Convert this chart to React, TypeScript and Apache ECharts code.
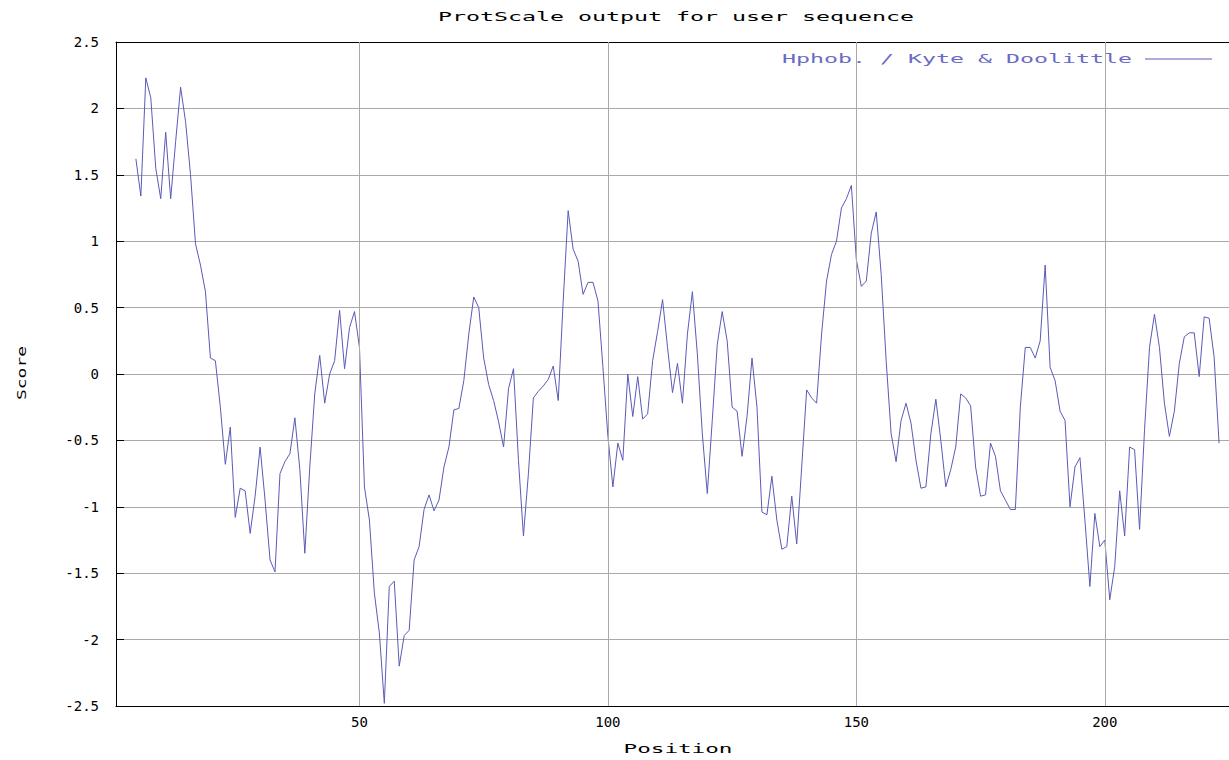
import React, { useEffect, useRef } from "react";
import * as echarts from "echarts";

const TITLE = "ProtScale output for user sequence";
const X_NAME = "Position";
const Y_NAME = "Score";
const SERIES_NAME = "Hphob. / Kyte & Doolittle";
const FIRST_POSITION = 5;
const X_TICKS = [50, 100, 150, 200];
const SCORES = [
  1.62, 1.34, 2.23, 2.08, 1.55, 1.32, 1.82, 1.32, 1.75, 2.16,
  1.9, 1.5, 0.98, 0.82, 0.62, 0.12, 0.1, -0.25, -0.68, -0.4,
  -1.08, -0.86, -0.88, -1.2, -0.92, -0.55, -0.95, -1.4, -1.49, -0.75,
  -0.66, -0.6, -0.33, -0.72, -1.35, -0.7, -0.15, 0.14, -0.22, 0.0,
  0.1, 0.48, 0.04, 0.35, 0.47, 0.2, -0.85, -1.1, -1.65, -1.95,
  -2.48, -1.6, -1.56, -2.2, -1.97, -1.93, -1.4, -1.3, -1.02, -0.91,
  -1.03, -0.95, -0.7, -0.55, -0.27, -0.26, -0.05, 0.3, 0.58, 0.5,
  0.12, -0.08, -0.2, -0.36, -0.55, -0.11, 0.04, -0.65, -1.22, -0.75,
  -0.18, -0.13, -0.09, -0.04, 0.06, -0.2, 0.55, 1.23, 0.94, 0.85,
  0.6, 0.69, 0.69, 0.55, 0.05, -0.47, -0.85, -0.52, -0.65, 0.0,
  -0.32, -0.02, -0.34, -0.3, 0.1, 0.32, 0.56, 0.2, -0.14, 0.08,
  -0.22, 0.3, 0.62, 0.15, -0.45, -0.9, -0.35, 0.22, 0.47, 0.25,
  -0.25, -0.28, -0.62, -0.32, 0.12, -0.25, -1.04, -1.06, -0.77, -1.1,
  -1.32, -1.3, -0.92, -1.28, -0.7, -0.12, -0.18, -0.22, 0.3, 0.7,
  0.9, 1.0, 1.25, 1.32, 1.42, 0.86, 0.66, 0.7, 1.06, 1.22,
  0.75, 0.1, -0.45, -0.66, -0.35, -0.22, -0.37, -0.65, -0.86, -0.85,
  -0.45, -0.19, -0.5, -0.85, -0.72, -0.55, -0.15, -0.18, -0.24, -0.7,
  -0.92, -0.91, -0.52, -0.62, -0.88, -0.95, -1.02, -1.02, -0.25, 0.2,
  0.2, 0.12, 0.25, 0.82, 0.05, -0.05, -0.28, -0.35, -1.0, -0.7,
  -0.63, -1.1, -1.6, -1.05, -1.3, -1.25, -1.7, -1.45, -0.88, -1.22,
  -0.55, -0.57, -1.17, -0.42, 0.2, 0.45, 0.2, -0.22, -0.47, -0.28,
  0.08, 0.28, 0.31, 0.31, -0.02, 0.43, 0.42, 0.13, -0.52,
];

const FONT = "DejaVu Sans Mono";
const LINE_COLOR = "#5a5ab8";
const GRID_COLOR = "#a9a9a9";

export default function App() {
  const ref = useRef<HTMLDivElement>(null);
  useEffect(() => {
    if (!ref.current) return;
    const chart = echarts.init(ref.current, null, { renderer: "svg" });
    const data = SCORES.map((v, i) => [FIRST_POSITION + i, v]);
    chart.setOption({
      animation: false,
      backgroundColor: "#ffffff",
      grid: { left: 116, right: 0, top: 42, bottom: 54 },
      xAxis: [
        {
          type: "value",
          min: 1,
          max: 225,
          position: "bottom",
          axisLine: { show: true, onZero: false, lineStyle: { color: "#000", width: 1 } },
          axisTick: { show: true, inside: true, length: 8, customValues: X_TICKS, lineStyle: { color: "#000" } },
          axisLabel: { show: true, customValues: X_TICKS, color: "#000", fontFamily: FONT, fontSize: 14, margin: 9 },
          splitLine: { show: false },
        },
        {
          type: "value",
          min: 1,
          max: 225,
          position: "top",
          axisLine: { show: true, onZero: false, lineStyle: { color: "#000", width: 1 } },
          axisTick: { show: true, inside: true, length: 8, customValues: X_TICKS, lineStyle: { color: "#000" } },
          axisLabel: { show: false },
          splitLine: { show: false },
        },
      ],
      yAxis: {
        type: "value",
        min: -2.5,
        max: 2.5,
        interval: 0.5,
        axisLine: { show: true, onZero: false, lineStyle: { color: "#000", width: 1 } },
        axisTick: { show: true, inside: true, length: 8, lineStyle: { color: "#000" } },
        axisLabel: { color: "#000", fontFamily: FONT, fontSize: 14, margin: 17 },
        splitLine: { show: true, lineStyle: { color: GRID_COLOR, width: 1 } },
      },
      series: [
        {
          type: "line",
          name: "grid",
          data: [],
          z: 1,
          silent: true,
          markLine: {
            silent: true,
            symbol: "none",
            label: { show: false },
            lineStyle: { color: GRID_COLOR, type: "solid", width: 1 },
            data: X_TICKS.map((t) => ({ xAxis: t })),
          },
        },
        {
          type: "line",
          name: SERIES_NAME,
          data,
          z: 3,
          showSymbol: false,
          symbol: "none",
          lineStyle: { color: LINE_COLOR, width: 1 },
          itemStyle: { color: LINE_COLOR },
        },
      ],
      graphic: [
        {
          type: "text",
          x: 676,
          y: 17,
          scaleX: 1.79,
          style: { text: TITLE, fontFamily: FONT, fontSize: 13, fill: "#000", textAlign: "center", textVerticalAlign: "middle" },
        },
        {
          type: "text",
          x: 678,
          y: 748,
          scaleX: 1.74,
          style: { text: X_NAME, fontFamily: FONT, fontSize: 13, fill: "#000", textAlign: "center", textVerticalAlign: "middle" },
        },
        {
          type: "text",
          x: 21,
          y: 373,
          rotation: Math.PI / 2,
          scaleX: 1.38,
          style: { text: Y_NAME, fontFamily: FONT, fontSize: 13, fill: "#000", textAlign: "center", textVerticalAlign: "middle" },
        },
        {
          type: "text",
          x: 782,
          y: 59,
          scaleX: 1.79,
          style: { text: SERIES_NAME, fontFamily: FONT, fontSize: 13, fill: "#6a6ac6", textAlign: "left", textVerticalAlign: "middle" },
        },
        {
          type: "line",
          shape: { x1: 1145, y1: 59, x2: 1212, y2: 59 },
          style: { stroke: LINE_COLOR, lineWidth: 1 },
        },
      ],
    });
    return () => chart.dispose();
  }, []);
  return <div ref={ref} style={{ position: "fixed", left: 0, top: 0, width: 1229, height: 760 }} />;
}
